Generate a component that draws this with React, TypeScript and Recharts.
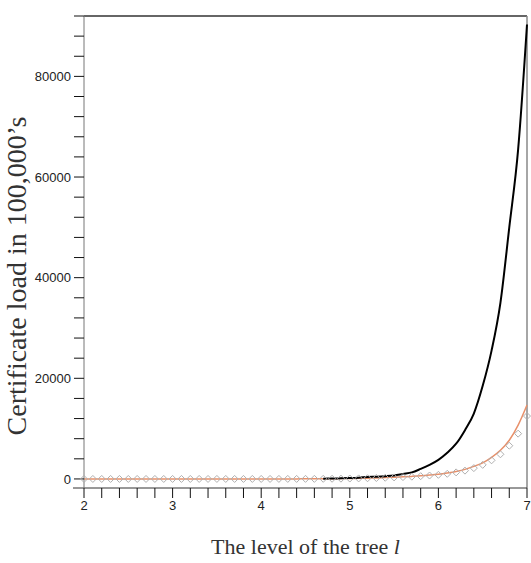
import React from 'react';
import { LineChart, Line, XAxis, YAxis, ReferenceLine, Label } from 'recharts';

const levels = [
  2.0, 2.1, 2.2, 2.3, 2.4, 2.5, 2.6, 2.7, 2.8, 2.9,
  3.0, 3.1, 3.2, 3.3, 3.4, 3.5, 3.6, 3.7, 3.8, 3.9,
  4.0, 4.1, 4.2, 4.3, 4.4, 4.5, 4.6, 4.7, 4.8, 4.9,
  5.0, 5.1, 5.2, 5.3, 5.4, 5.5, 5.6, 5.7, 5.8, 5.9,
  6.0, 6.1, 6.2, 6.3, 6.4, 6.5, 6.6, 6.7, 6.8, 6.9,
  7.0,
];

// exact / worst-case load (black), only computed from level 4.7 on
const exactLoad = [
  null, null, null, null, null, null, null, null, null, null,
  null, null, null, null, null, null, null, null, null, null,
  null, null, null, null, null, null, null, 50, 80, 120,
  180, 260, 380, 450, 550, 700, 1000, 1300, 2000, 2800,
  3800, 5200, 7000, 9700, 13000, 18500, 25500, 35000, 50000, 65500,
  90300,
];

// orange line
const estimateLoad = [
  0, 0, 0, 0, 0, 0, 0, 0, 0, 0,
  0, 0, 0, 0, 0, 1, 1, 2, 2, 3,
  4, 5, 7, 9, 12, 16, 22, 30, 45, 65,
  90, 120, 160, 210, 270, 340, 420, 510, 620, 770,
  950, 1200, 1500, 1900, 2500, 3200, 4300, 5700, 7700, 10700,
  14700,
];

// gray open diamonds
const simulatedLoad = [
  0, 0, 0, 0, 0, 0, 0, 0, 0, 0,
  0, 0, 0, 0, 0, 1, 1, 1, 2, 2,
  3, 4, 6, 8, 10, 14, 19, 26, 38, 55,
  80, 105, 140, 185, 240, 300, 370, 450, 550, 680,
  820, 1020, 1300, 1650, 2150, 2800, 3700, 4900, 6600, 9000,
  12500,
];

const xTicks = [
  2, 2.2, 2.4, 2.6, 2.8, 3, 3.2, 3.4, 3.6, 3.8, 4, 4.2, 4.4, 4.6, 4.8,
  5, 5.2, 5.4, 5.6, 5.8, 6, 6.2, 6.4, 6.6, 6.8, 7,
];
const xLabels = [2, 3, 4, 5, 6, 7];

const yTicks = [
  0, 4000, 8000, 12000, 16000, 20000, 24000, 28000, 32000, 36000, 40000, 44000,
  48000, 52000, 56000, 60000, 64000, 68000, 72000, 76000, 80000, 84000, 88000, 92000,
];
const yLabels = [0, 20000, 40000, 60000, 80000];

const data = levels.map((level, i) => ({
  level,
  exact: exactLoad[i],
  estimate: estimateLoad[i],
  simulated: simulatedLoad[i],
}));

const tickFont = { fontFamily: '"Liberation Sans", Arial, sans-serif', fontSize: 13, fill: '#222' };
const titleFont = '"Liberation Serif", "Times New Roman", serif';

function Diamond(props: any) {
  const { cx, cy } = props;
  if (cx == null || cy == null) return null;
  const r = 3.5;
  return (
    <path
      d={`M${cx},${cy - r}L${cx + r},${cy}L${cx},${cy + r}L${cx - r},${cy}Z`}
      fill="none"
      stroke="#b0b0b0"
      strokeWidth={1}
    />
  );
}

export default function App() {
  return (
    <div style={{ position: 'absolute', left: 0, top: 0, background: '#fff' }}>
      <LineChart
        width={531}
        height={563}
        data={data}
        margin={{ top: 16, right: 4, bottom: 0, left: 0 }}
      >
        <XAxis
          dataKey="level"
          type="number"
          domain={[2, 7]}
          ticks={xTicks}
          tickFormatter={(v: number) => (xLabels.includes(v) ? String(v) : '')}
          tick={tickFont}
          tickSize={10}
          tickMargin={3}
          tickLine={{ stroke: '#111' }}
          axisLine={{ stroke: '#333' }}
          height={75}
          interval={0}
        >
          <Label
            content={({ viewBox }: any) => (
              <text
                x={viewBox.x + viewBox.width / 2}
                y={viewBox.y + 66}
                textAnchor="middle"
                fontFamily={titleFont}
                fontSize={22}
                fill="#333"
              >
                The level of the tree <tspan fontStyle="italic">l</tspan>
              </text>
            )}
          />
        </XAxis>
        <YAxis
          type="number"
          domain={[-1800, 92000]}
          ticks={yTicks}
          tickFormatter={(v: number) => (yLabels.includes(v) ? String(v) : '')}
          tick={tickFont}
          tickSize={10}
          tickMargin={3}
          tickLine={{ stroke: '#111' }}
          axisLine={{ stroke: '#777' }}
          width={84}
          interval={0}
        >
          <Label
            content={() => (
              <text
                x={26}
                y={276}
                transform="rotate(-90 26 276)"
                textAnchor="middle"
                fontFamily={titleFont}
                fontSize={28}
                fill="#333"
              >
                Certificate load in 100,000’s
              </text>
            )}
          />
        </YAxis>
        <ReferenceLine y={92000} stroke="#333" strokeWidth={1.5} />
        <ReferenceLine x={7} stroke="#888" strokeWidth={1.5} />
        <ReferenceLine
          segment={[{ x: 1.876, y: -1800 }, { x: 2, y: -1800 }]}
          ifOverflow="visible"
          stroke="#333"
        />
        <Line
          dataKey="simulated"
          stroke="none"
          dot={<Diamond />}
          activeDot={false}
          isAnimationActive={false}
        />
        <Line
          dataKey="estimate"
          stroke="#e8906a"
          strokeWidth={1.5}
          dot={false}
          type="monotone"
          isAnimationActive={false}
        />
        <Line
          dataKey="exact"
          stroke="#000"
          strokeWidth={2}
          dot={false}
          type="monotone"
          connectNulls={false}
          isAnimationActive={false}
        />
      </LineChart>
    </div>
  );
}
